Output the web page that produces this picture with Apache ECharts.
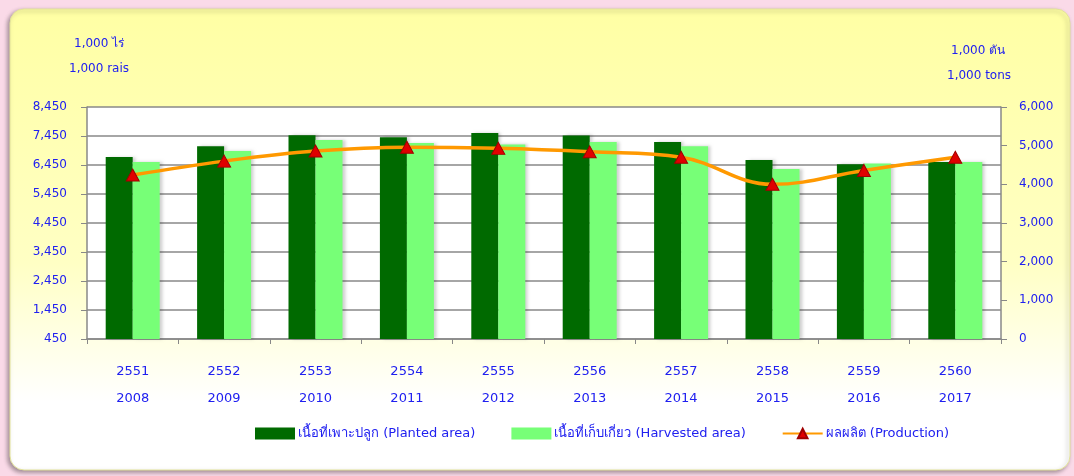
<!DOCTYPE html>
<html>
<head>
<meta charset="utf-8">
<script src="https://cdn.jsdelivr.net/npm/echarts@6/dist/echarts.min.js"></script>
<style>
  html, body { margin: 0; padding: 0; background: #fadae8; }
  #main { width: 1074px; height: 476px; }
</style>
</head>
<body>
<div id="main"></div>
<script>
var yearsThai = ['2551', '2552', '2553', '2554', '2555', '2556', '2557', '2558', '2559', '2560'];
var yearsAD = ['2008', '2009', '2010', '2011', '2012', '2013', '2014', '2015', '2016', '2017'];
var planted = [6730, 7100, 7480, 7410, 7550, 7470, 7240, 6620, 6480, 6550];
var harvested = [6550, 6930, 7310, 7210, 7160, 7240, 7100, 6310, 6500, 6550];
var production = [4240, 4600, 4860, 4960, 4930, 4840, 4700, 4000, 4360, 4700];

var blue = '#2020f0';
var font = 'DejaVu Sans, Tahoma, sans-serif';

var categories = yearsThai.map(function (y, i) { return y + '\n' + yearsAD[i]; });

function fmt(v) {
    return v.toString().replace(/\B(?=(\d{3})+(?!\d))/g, ',');
}

var myChart = echarts.init(document.getElementById('main'));

var option = {
    backgroundColor: '#fadae8',
    textStyle: { fontFamily: font },
    graphic: [{
        type: 'rect',
        z: -10,
        shape: { x: 10, y: 9, width: 1060, height: 461, r: 14 },
        style: {
            fill: new echarts.graphic.LinearGradient(0, 0, 0, 1, [
                { offset: 0, color: '#ffffa4' },
                { offset: 0.55, color: '#ffffc4' },
                { offset: 0.85, color: '#ffffff' },
                { offset: 1, color: '#ffffff' }
            ]),
            stroke: '#e4e49a',
            lineWidth: 1,
            shadowBlur: 4,
            shadowColor: 'rgba(0,0,0,0.35)',
            shadowOffsetX: -2,
            shadowOffsetY: 2
        }
    }, {
        type: 'text', left: 74, top: 38,
        style: { text: '1,000 ไร่', fill: blue, font: '12px ' + font }
    }, {
        type: 'text', left: 69, top: 63,
        style: { text: '1,000 rais', fill: blue, font: '12px ' + font }
    }, {
        type: 'text', left: 951, top: 45,
        style: { text: '1,000 ตัน', fill: blue, font: '12px ' + font }
    }, {
        type: 'text', left: 947, top: 70,
        style: { text: '1,000 tons', fill: blue, font: '12px ' + font }
    }],
    grid: {
        left: 87, right: 73, top: 107, bottom: 137,
        show: true, backgroundColor: '#ffffff', borderWidth: 0
    },
    legend: {
        bottom: 31,
        left: 250,
        itemWidth: 40,
        itemHeight: 12,
        itemGap: 36,
        textStyle: { color: blue, fontSize: 13, fontFamily: font, padding: [0, 0, 0, -2] },
        data: [
            { name: 'เนื้อที่เพาะปลูก (Planted area)', icon: 'rect' },
            { name: 'เนื้อที่เก็บเกี่ยว (Harvested area)', icon: 'rect' },
            { name: 'ผลผลิต (Production)' }
        ]
    },
    xAxis: {
        type: 'category',
        data: categories,
        axisLine: { lineStyle: { color: '#888', width: 1.5 } },
        axisTick: { show: true, length: 5, lineStyle: { color: '#888' } },
        axisLabel: { color: blue, fontSize: 13, lineHeight: 27, margin: 19 }
    },
    yAxis: [{
        type: 'value',
        min: 450, max: 8450, interval: 1000,
        axisLine: { show: true, lineStyle: { color: '#888', width: 1.5 } },
        axisTick: { show: true, length: 6, lineStyle: { color: '#888' } },
        splitLine: { lineStyle: { color: '#888', width: 1.5 } },
        axisLabel: { color: blue, fontSize: 12, margin: 20, formatter: fmt }
    }, {
        type: 'value',
        min: 0, max: 6000, interval: 1000,
        axisLine: { show: true, lineStyle: { color: '#888', width: 1.5 } },
        axisTick: { show: true, length: 6, lineStyle: { color: '#888' } },
        splitLine: { show: false },
        axisLabel: { color: blue, fontSize: 12, margin: 18, formatter: fmt }
    }],
    series: [{
        name: 'เนื้อที่เพาะปลูก (Planted area)',
        type: 'bar',
        data: planted,
        barWidth: 27,
        barGap: '0%',
        itemStyle: {
            color: '#006a00',
            shadowColor: 'rgba(0,0,0,0.18)',
            shadowBlur: 3,
            shadowOffsetX: 3
        }
    }, {
        name: 'เนื้อที่เก็บเกี่ยว (Harvested area)',
        type: 'bar',
        data: harvested,
        barWidth: 27,
        barGap: '0%',
        itemStyle: {
            color: '#77ff77',
            shadowColor: 'rgba(0,0,0,0.18)',
            shadowBlur: 3,
            shadowOffsetX: 3
        }
    }, {
        name: 'ผลผลิต (Production)',
        type: 'line',
        yAxisIndex: 1,
        data: production,
        smooth: 0.4,
        symbol: 'triangle',
        symbolSize: [13, 12],
        lineStyle: { color: '#ff9900', width: 3.5 },
        itemStyle: { color: '#e00000', borderColor: '#a00000', borderWidth: 1 }
    }]
};

myChart.setOption(option);
</script>
</body>
</html>
